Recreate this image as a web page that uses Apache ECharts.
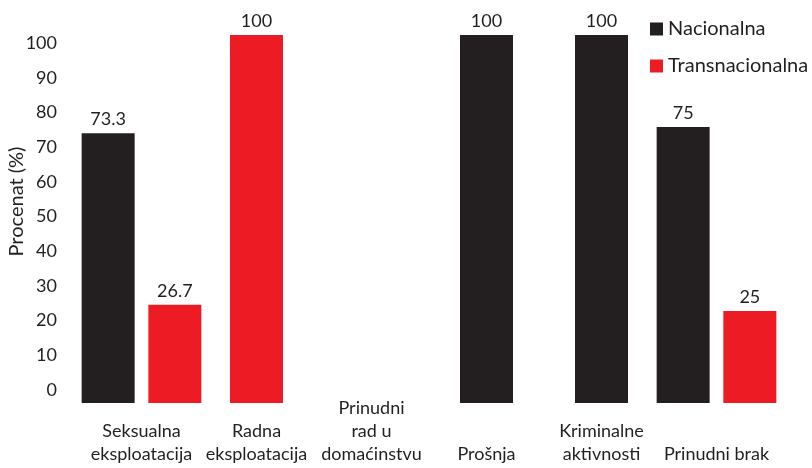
<!DOCTYPE html>
<html>
<head>
<meta charset="utf-8">
<script src="https://cdn.jsdelivr.net/npm/echarts@6/dist/echarts.min.js"></script>
<style>
  html, body { margin: 0; padding: 0; background: #fff; }
  #chart { width: 812px; height: 468px; }
</style>
</head>
<body>
<div id="chart"></div>
<script>
// podaci
const categories = ['Seksualna\neksploatacija', 'Radna\neksploatacija', 'Prinudni\nrad u\ndomaćinstvu', 'Prošnja', 'Kriminalne\naktivnosti', 'Prinudni brak'];
const nacionalna = [73.3, null, null, 100, 100, 75];
const transnacionalna = [26.7, 100, null, null, null, 25];
const yTicks = [0, 10, 20, 30, 40, 50, 60, 70, 80, 90, 100];

const colors = ['#231f20', '#ed1c24'];
const font = 'Lato, "Open Sans", sans-serif';

// bars sit side by side only where both series have a value, otherwise centred
function toPoints(values, other, side) {
  const pts = [];
  values.forEach(function (v, i) {
    if (v == null) return;
    const shift = other[i] == null ? 0 : side * 0.29;
    pts.push([i + shift, v]);
  });
  return pts;
}

const myChart = echarts.init(document.getElementById('chart'));

const option = {
  color: colors,
  animation: false,
  textStyle: { fontFamily: font, color: '#231f20' },
  legend: {
    orient: 'vertical',
    left: 645,
    top: 14,
    itemWidth: 13,
    itemHeight: 13,
    itemGap: 17,
    icon: 'rect',
    data: ['Nacionalna', 'Transnacionalna'],
    textStyle: { fontSize: 20, color: '#231f20', fontFamily: font }
  },
  grid: [
    // bars
    { left: 84, right: 38, top: 35, bottom: 65, outerBoundsMode: 'none' },
    // y tick labels
    { left: 62, right: 38, top: 43, bottom: 78, outerBoundsMode: 'none' }
  ],
  xAxis: [
    { type: 'value', gridIndex: 0, min: -0.5, max: categories.length - 0.5, show: false },
    {
      type: 'category',
      gridIndex: 0,
      data: categories,
      position: 'bottom',
      axisLine: { show: false },
      axisTick: { show: false },
      axisLabel: {
        interval: 0,
        margin: 63,
        verticalAlign: 'bottom',
        fontSize: 18,
        lineHeight: 23,
        color: '#231f20',
        fontFamily: font
      }
    },
    { type: 'value', gridIndex: 1, show: false }
  ],
  yAxis: [
    { type: 'value', gridIndex: 0, min: 0, max: 100, show: false },
    {
      type: 'value',
      gridIndex: 1,
      min: yTicks[0],
      max: yTicks[yTicks.length - 1],
      interval: 10,
      name: 'Procenat (%)',
      nameLocation: 'middle',
      nameGap: 35,
      nameMoveOverlap: false,
      nameTextStyle: { fontSize: 20, color: '#231f20', fontFamily: font, padding: [0, 0, 0, 30] },
      axisLine: { show: false },
      axisTick: { show: false },
      splitLine: { show: false },
      axisLabel: { fontSize: 18, margin: 5, color: '#231f20', fontFamily: font }
    }
  ],
  series: [
    {
      name: 'Nacionalna',
      type: 'bar',
      xAxisIndex: 0,
      yAxisIndex: 0,
      barWidth: 53,
      barGap: '-100%',
      data: toPoints(nacionalna, transnacionalna, -1),
      label: { show: true, position: 'top', distance: 5, fontSize: 18, color: '#231f20', fontFamily: font }
    },
    {
      name: 'Transnacionalna',
      type: 'bar',
      xAxisIndex: 0,
      yAxisIndex: 0,
      barWidth: 53,
      barGap: '-100%',
      data: toPoints(transnacionalna, nacionalna, 1),
      label: { show: true, position: 'top', distance: 5, fontSize: 18, color: '#231f20', fontFamily: font }
    }
  ]
};

myChart.setOption(option);
window.addEventListener('resize', function () {
  myChart.resize();
});
</script>
</body>
</html>
